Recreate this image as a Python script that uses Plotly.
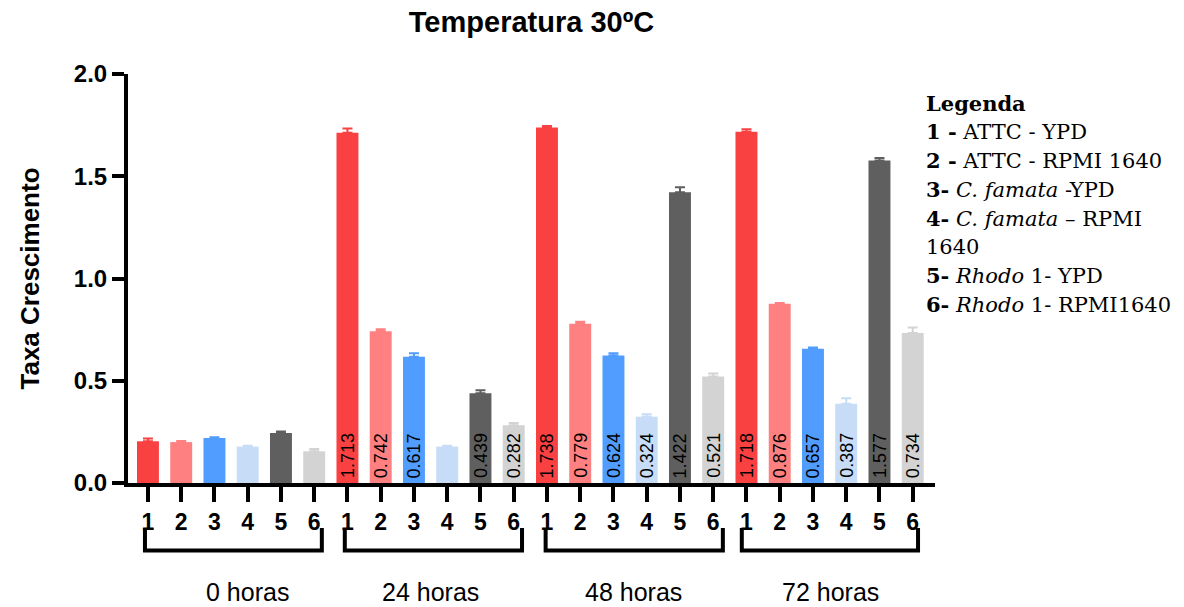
import plotly.graph_objects as go

groups = ["0 horas", "24 horas", "48 horas", "72 horas"]
samples = ["1", "2", "3", "4", "5", "6"]
colors = ["#FA4142", "#FF8080", "#519DFF", "#C7DCF7", "#5F5F5F", "#D3D3D3"]

# values[sample][group]
values = [
    [0.204, 1.713, 1.738, 1.718],
    [0.200, 0.742, 0.779, 0.876],
    [0.220, 0.617, 0.624, 0.657],
    [0.178, 0.178, 0.324, 0.387],
    [0.245, 0.439, 1.422, 1.577],
    [0.155, 0.282, 0.521, 0.734],
]
errors = [
    [0.013, 0.020, 0.008, 0.012],
    [0.005, 0.010, 0.010, 0.004],
    [0.004, 0.018, 0.010, 0.006],
    [0.004, 0.004, 0.012, 0.028],
    [0.007, 0.014, 0.024, 0.012],
    [0.011, 0.011, 0.014, 0.026],
]
labels = [
    ["", "1.713", "1.738", "1.718"],
    ["", "0.742", "0.779", "0.876"],
    ["", "0.617", "0.624", "0.657"],
    ["", "", "0.324", "0.387"],
    ["", "0.439", "1.422", "1.577"],
    ["", "0.282", "0.521", "0.734"],
]

fig = go.Figure()
for s in range(6):
    xs = [g * 6 + s for g in range(4)]
    fig.add_trace(go.Bar(
        x=xs, y=values[s], width=0.66,
        marker=dict(color=colors[s], line=dict(width=0)),
        error_y=dict(type="data", array=errors[s], symmetric=False,
                     arrayminus=[0] * 4, color=colors[s], thickness=2, width=5),
        showlegend=False, cliponaxis=False,
    ))
    for g in range(4):
        if labels[s][g]:
            fig.add_annotation(x=xs[g], y=0, xref="x", yref="y", text=labels[s][g],
                               textangle=-90, showarrow=False, xanchor="center",
                               yanchor="bottom", yshift=3,
                               font=dict(family="Arial", size=18, color="black"))

# brackets below axis
bracket_x = [(-0.09, 5.23), (5.92, 11.25), (11.96, 17.29), (17.86, 23.16)]
y_top = -0.110
y_bot = -0.165
for (x0, x1) in bracket_x:
    fig.add_shape(type="path", xref="x", yref="paper",
                  path=f"M {x0},{y_top} L {x0},{y_bot} L {x1},{y_bot} L {x1},{y_top}",
                  line=dict(color="black", width=4))

group_x = [2.98, 8.51, 14.6, 20.54]
for gx, gname in zip(group_x, groups):
    fig.add_annotation(x=gx, y=-0.266, xref="x", yref="paper", text=gname,
                       showarrow=False, font=dict(family="Arial", size=25, color="black"),
                       xanchor="center", yanchor="middle")

legend_lines = [
    "<b>Legenda</b>",
    "<b>1 -</b> ATTC - YPD",
    "<b>2 -</b> ATTC - RPMI 1640",
    "<b>3-</b> <i>C. famata</i> -YPD",
    "<b>4-</b> <i>C. famata</i> – RPMI",
    "1640",
    "<b>5-</b> <i>Rhodo</i> 1- YPD",
    "<b>6-</b> <i>Rhodo</i> 1- RPMI1640",
]
leg_y = [103, 131, 160, 189, 218, 246, 275, 304]
for t, py in zip(legend_lines, leg_y):
    fig.add_annotation(x=(924 - 128) / 807, y=(483 - py) / 410, xref="paper", yref="paper",
                       text=t, showarrow=False, xanchor="left", yanchor="middle",
                       font=dict(family="DejaVu Serif", size=21, color="black"))

tickvals = list(range(24))
ticktext = samples * 4

fig.update_layout(
    width=1184, height=607,
    margin=dict(l=128, r=249, t=74, b=124),
    plot_bgcolor="white", paper_bgcolor="white",
    barmode="overlay",
    title=dict(text="<b>Temperatura 30ºC</b>", x=0.5, xref="paper", xanchor="center",
               y=1 - 22 / 607, yanchor="middle",
               font=dict(family="Arial", size=29, color="black")),
    xaxis=dict(range=[-0.6, 23.67], tickvals=tickvals, ticktext=ticktext,
               showline=True, linecolor="black", linewidth=4,
               ticks="outside", ticklen=15, tickwidth=4, tickcolor="black",
               tickfont=dict(family="Arial", size=23, color="black", weight="bold"),
               showgrid=False, zeroline=False, fixedrange=True),
    yaxis=dict(range=[0, 2.0], tickvals=[0, 0.5, 1.0, 1.5, 2.0],
               ticktext=["0.0", "0.5", "1.0", "1.5", "2.0"],
               showline=True, linecolor="black", linewidth=4,
               ticks="outside", ticklen=12, tickwidth=4, tickcolor="black",
               tickfont=dict(family="Arial", size=24, color="black", weight="bold"),
               title=dict(text="<b>Taxa Crescimento</b>", standoff=28,
                          font=dict(family="Arial", size=26, color="black")),
               showgrid=False, zeroline=False, fixedrange=True),
)

fig.write_html("out.html")
